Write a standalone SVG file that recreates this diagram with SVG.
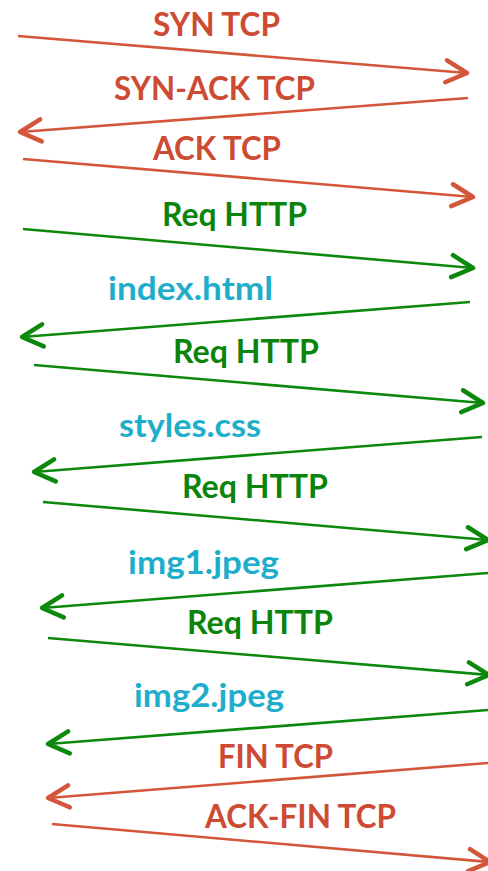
<svg xmlns="http://www.w3.org/2000/svg" width="488" height="871" viewBox="0 0 488 871">
<style>
text{font-family:Lato,"Open Sans","Liberation Sans",sans-serif;font-weight:700;font-size:32px}
.r{fill:#cd4b33}.g{fill:#0b840b}.b{fill:#1eaecb}
.lr{stroke:#d3553a;stroke-width:2.6;fill:none;marker-end:url(#ar)}
.lg{stroke:#0c890c;stroke-width:2.6;fill:none;marker-end:url(#ag)}
</style>
<defs>
<marker id="ar" markerUnits="userSpaceOnUse" orient="auto" markerWidth="1" markerHeight="1" overflow="visible" refX="0" refY="0">
<path d="M-21,-11 L0,0 L-21,11" fill="none" stroke="#d3553a" stroke-width="4.5" stroke-linecap="round" stroke-linejoin="round"/>
</marker>
<marker id="ag" markerUnits="userSpaceOnUse" orient="auto" markerWidth="1" markerHeight="1" overflow="visible" refX="0" refY="0">
<path d="M-21,-11 L0,0 L-21,11" fill="none" stroke="#0c890c" stroke-width="4.5" stroke-linecap="round" stroke-linejoin="round"/>
</marker>
</defs>
<g id="connectors">
<line class="lr" x1="18" y1="36" x2="467" y2="73"/>
<line class="lr" x1="468" y1="98" x2="20" y2="132"/>
<line class="lr" x1="23" y1="159" x2="473" y2="197"/>
<line class="lg" x1="23" y1="229" x2="473" y2="268"/>
<line class="lg" x1="470" y1="302" x2="22" y2="337"/>
<line class="lg" x1="34" y1="365" x2="483" y2="403"/>
<line class="lg" x1="482" y1="437" x2="34" y2="472"/>
<line class="lg" x1="43" y1="502" x2="488" y2="540"/>
<line class="lg" x1="488" y1="573" x2="42" y2="608"/>
<line class="lg" x1="48" y1="638" x2="489" y2="675"/>
<line class="lg" x1="488" y1="710" x2="48" y2="744"/>
<line class="lr" x1="488" y1="763" x2="48" y2="798"/>
<line class="lr" x1="52" y1="824" x2="490" y2="862"/>
</g>
<g id="label-syn"><text class="r" x="153" y="36" textLength="127" lengthAdjust="spacingAndGlyphs">SYN TCP</text></g>
<g id="label-synack"><text class="r" x="114" y="100" textLength="201" lengthAdjust="spacingAndGlyphs">SYN-ACK TCP</text></g>
<g id="label-ack"><text class="r" x="153" y="160" textLength="128" lengthAdjust="spacingAndGlyphs">ACK TCP</text></g>
<g id="label-req1"><text class="g" x="162" y="226" textLength="145" lengthAdjust="spacingAndGlyphs">Req HTTP</text></g>
<g id="label-index"><text class="b" x="108" y="300" textLength="165" lengthAdjust="spacingAndGlyphs">index.html</text></g>
<g id="label-req2"><text class="g" x="173" y="363" textLength="146" lengthAdjust="spacingAndGlyphs">Req HTTP</text></g>
<g id="label-styles"><text class="b" x="119" y="437" textLength="142" lengthAdjust="spacingAndGlyphs">styles.css</text></g>
<g id="label-req3"><text class="g" x="182" y="498" textLength="146" lengthAdjust="spacingAndGlyphs">Req HTTP</text></g>
<g id="label-img1"><text class="b" x="128" y="574" textLength="151" lengthAdjust="spacingAndGlyphs">img1.jpeg</text></g>
<g id="label-req4"><text class="g" x="187" y="634" textLength="146" lengthAdjust="spacingAndGlyphs">Req HTTP</text></g>
<g id="label-img2"><text class="b" x="134" y="707" textLength="150" lengthAdjust="spacingAndGlyphs">img2.jpeg</text></g>
<g id="label-fin"><text class="r" x="218" y="768" textLength="115" lengthAdjust="spacingAndGlyphs">FIN TCP</text></g>
<g id="label-ackfin"><text class="r" x="205" y="828" textLength="191" lengthAdjust="spacingAndGlyphs">ACK-FIN TCP</text></g>
</svg>
